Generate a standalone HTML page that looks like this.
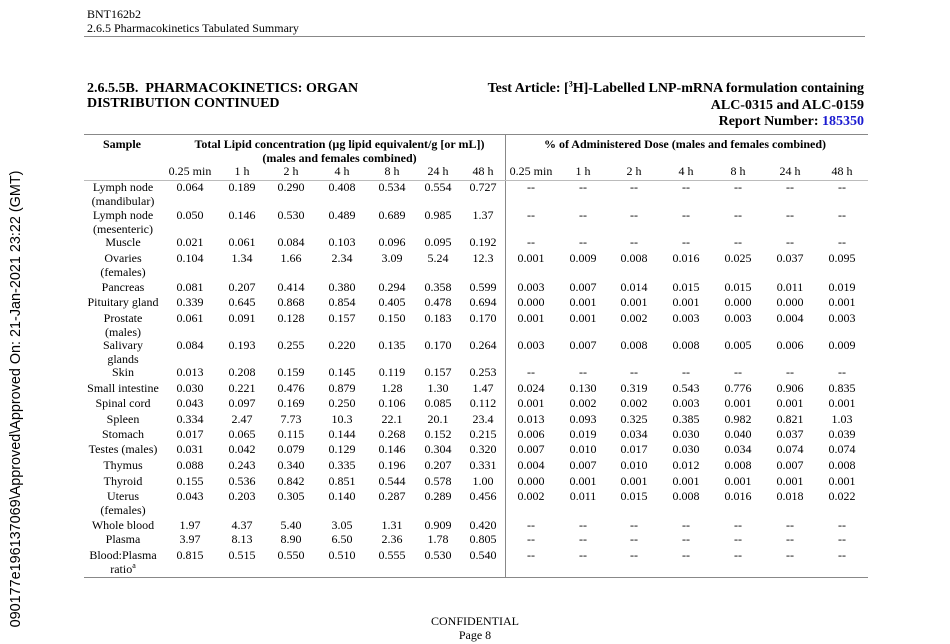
<!DOCTYPE html>
<html><head><meta charset="utf-8"><style>
body{margin:0;width:950px;height:644px;background:#fff;position:relative;overflow:hidden;font-family:"Liberation Serif",serif;font-size:12px;color:#000}
div,span{position:absolute;line-height:14px;white-space:nowrap}
.h{font-weight:bold;font-size:14px;line-height:15px}
.r span{width:60px;text-align:center}
.r .s{left:73px;width:100px}
.a1{left:160px}.a2{left:212px}.a3{left:261px}.a4{left:312px}.a5{left:362px}.a6{left:408px}.a7{left:453px}
.b1{left:501px}.b2{left:553px}.b3{left:604px}.b4{left:656px}.b5{left:708px}.b6{left:760px}.b7{left:812px}
.ln{background:#888;height:1px}
</style></head><body>
<div style="left:87px;top:7px">BNT162b2</div>
<div style="left:87px;top:21px">2.6.5 Pharmacokinetics Tabulated Summary</div>
<div class="ln" style="left:84px;top:36px;width:781px"></div>
<div class="h" style="left:87px;top:81px">2.6.5.5B.&nbsp; PHARMACOKINETICS: ORGAN<br>DISTRIBUTION CONTINUED</div>
<div class="h" style="right:86px;top:81px;text-align:right;line-height:16.5px">Test Article: [<sup style="font-size:8px;line-height:0">3</sup>H]-Labelled LNP-mRNA formulation containing<br>ALC-0315 and ALC-0159<br>Report Number: <span style="position:static;color:#1a1ad0">185350</span></div>
<div class="ln" style="left:84px;top:134px;width:784px"></div>
<div class="ln" style="left:505px;top:134px;width:1px;height:443px"></div>
<div class="ln" style="left:84px;top:180px;width:784px;background:#bbb"></div>
<div class="ln" style="left:84px;top:577px;width:784px"></div>
<div style="font-weight:bold;left:103px;top:137px">Sample</div>
<div style="font-weight:bold;left:187px;top:137px;width:305px;text-align:center">Total Lipid concentration (µg lipid equivalent/g [or mL])<br>(males and females combined)</div>
<div style="font-weight:bold;left:505px;top:137px;width:360px;text-align:center">% of Administered Dose (males and females combined)</div>
<div class="r" style="top:164px"><span class="a1">0.25 min</span><span class="a2">1 h</span><span class="a3">2 h</span><span class="a4">4 h</span><span class="a5">8 h</span><span class="a6">24 h</span><span class="a7">48 h</span><span class="b1">0.25 min</span><span class="b2">1 h</span><span class="b3">2 h</span><span class="b4">4 h</span><span class="b5">8 h</span><span class="b6">24 h</span><span class="b7">48 h</span></div>
<div class="r" style="top:180px"><span class="s">Lymph node<br>(mandibular)</span><span class="a1">0.064</span><span class="a2">0.189</span><span class="a3">0.290</span><span class="a4">0.408</span><span class="a5">0.534</span><span class="a6">0.554</span><span class="a7">0.727</span><span class="b1">--</span><span class="b2">--</span><span class="b3">--</span><span class="b4">--</span><span class="b5">--</span><span class="b6">--</span><span class="b7">--</span></div>
<div class="r" style="top:208px"><span class="s">Lymph node<br>(mesenteric)</span><span class="a1">0.050</span><span class="a2">0.146</span><span class="a3">0.530</span><span class="a4">0.489</span><span class="a5">0.689</span><span class="a6">0.985</span><span class="a7">1.37</span><span class="b1">--</span><span class="b2">--</span><span class="b3">--</span><span class="b4">--</span><span class="b5">--</span><span class="b6">--</span><span class="b7">--</span></div>
<div class="r" style="top:235px"><span class="s">Muscle</span><span class="a1">0.021</span><span class="a2">0.061</span><span class="a3">0.084</span><span class="a4">0.103</span><span class="a5">0.096</span><span class="a6">0.095</span><span class="a7">0.192</span><span class="b1">--</span><span class="b2">--</span><span class="b3">--</span><span class="b4">--</span><span class="b5">--</span><span class="b6">--</span><span class="b7">--</span></div>
<div class="r" style="top:251px"><span class="s">Ovaries<br>(females)</span><span class="a1">0.104</span><span class="a2">1.34</span><span class="a3">1.66</span><span class="a4">2.34</span><span class="a5">3.09</span><span class="a6">5.24</span><span class="a7">12.3</span><span class="b1">0.001</span><span class="b2">0.009</span><span class="b3">0.008</span><span class="b4">0.016</span><span class="b5">0.025</span><span class="b6">0.037</span><span class="b7">0.095</span></div>
<div class="r" style="top:280px"><span class="s">Pancreas</span><span class="a1">0.081</span><span class="a2">0.207</span><span class="a3">0.414</span><span class="a4">0.380</span><span class="a5">0.294</span><span class="a6">0.358</span><span class="a7">0.599</span><span class="b1">0.003</span><span class="b2">0.007</span><span class="b3">0.014</span><span class="b4">0.015</span><span class="b5">0.015</span><span class="b6">0.011</span><span class="b7">0.019</span></div>
<div class="r" style="top:295px"><span class="s">Pituitary gland</span><span class="a1">0.339</span><span class="a2">0.645</span><span class="a3">0.868</span><span class="a4">0.854</span><span class="a5">0.405</span><span class="a6">0.478</span><span class="a7">0.694</span><span class="b1">0.000</span><span class="b2">0.001</span><span class="b3">0.001</span><span class="b4">0.001</span><span class="b5">0.000</span><span class="b6">0.000</span><span class="b7">0.001</span></div>
<div class="r" style="top:311px"><span class="s">Prostate<br>(males)</span><span class="a1">0.061</span><span class="a2">0.091</span><span class="a3">0.128</span><span class="a4">0.157</span><span class="a5">0.150</span><span class="a6">0.183</span><span class="a7">0.170</span><span class="b1">0.001</span><span class="b2">0.001</span><span class="b3">0.002</span><span class="b4">0.003</span><span class="b5">0.003</span><span class="b6">0.004</span><span class="b7">0.003</span></div>
<div class="r" style="top:338px"><span class="s">Salivary<br>glands</span><span class="a1">0.084</span><span class="a2">0.193</span><span class="a3">0.255</span><span class="a4">0.220</span><span class="a5">0.135</span><span class="a6">0.170</span><span class="a7">0.264</span><span class="b1">0.003</span><span class="b2">0.007</span><span class="b3">0.008</span><span class="b4">0.008</span><span class="b5">0.005</span><span class="b6">0.006</span><span class="b7">0.009</span></div>
<div class="r" style="top:365px"><span class="s">Skin</span><span class="a1">0.013</span><span class="a2">0.208</span><span class="a3">0.159</span><span class="a4">0.145</span><span class="a5">0.119</span><span class="a6">0.157</span><span class="a7">0.253</span><span class="b1">--</span><span class="b2">--</span><span class="b3">--</span><span class="b4">--</span><span class="b5">--</span><span class="b6">--</span><span class="b7">--</span></div>
<div class="r" style="top:381px"><span class="s">Small intestine</span><span class="a1">0.030</span><span class="a2">0.221</span><span class="a3">0.476</span><span class="a4">0.879</span><span class="a5">1.28</span><span class="a6">1.30</span><span class="a7">1.47</span><span class="b1">0.024</span><span class="b2">0.130</span><span class="b3">0.319</span><span class="b4">0.543</span><span class="b5">0.776</span><span class="b6">0.906</span><span class="b7">0.835</span></div>
<div class="r" style="top:396px"><span class="s">Spinal cord</span><span class="a1">0.043</span><span class="a2">0.097</span><span class="a3">0.169</span><span class="a4">0.250</span><span class="a5">0.106</span><span class="a6">0.085</span><span class="a7">0.112</span><span class="b1">0.001</span><span class="b2">0.002</span><span class="b3">0.002</span><span class="b4">0.003</span><span class="b5">0.001</span><span class="b6">0.001</span><span class="b7">0.001</span></div>
<div class="r" style="top:412px"><span class="s">Spleen</span><span class="a1">0.334</span><span class="a2">2.47</span><span class="a3">7.73</span><span class="a4">10.3</span><span class="a5">22.1</span><span class="a6">20.1</span><span class="a7">23.4</span><span class="b1">0.013</span><span class="b2">0.093</span><span class="b3">0.325</span><span class="b4">0.385</span><span class="b5">0.982</span><span class="b6">0.821</span><span class="b7">1.03</span></div>
<div class="r" style="top:427px"><span class="s">Stomach</span><span class="a1">0.017</span><span class="a2">0.065</span><span class="a3">0.115</span><span class="a4">0.144</span><span class="a5">0.268</span><span class="a6">0.152</span><span class="a7">0.215</span><span class="b1">0.006</span><span class="b2">0.019</span><span class="b3">0.034</span><span class="b4">0.030</span><span class="b5">0.040</span><span class="b6">0.037</span><span class="b7">0.039</span></div>
<div class="r" style="top:442px"><span class="s">Testes (males)</span><span class="a1">0.031</span><span class="a2">0.042</span><span class="a3">0.079</span><span class="a4">0.129</span><span class="a5">0.146</span><span class="a6">0.304</span><span class="a7">0.320</span><span class="b1">0.007</span><span class="b2">0.010</span><span class="b3">0.017</span><span class="b4">0.030</span><span class="b5">0.034</span><span class="b6">0.074</span><span class="b7">0.074</span></div>
<div class="r" style="top:458px"><span class="s">Thymus</span><span class="a1">0.088</span><span class="a2">0.243</span><span class="a3">0.340</span><span class="a4">0.335</span><span class="a5">0.196</span><span class="a6">0.207</span><span class="a7">0.331</span><span class="b1">0.004</span><span class="b2">0.007</span><span class="b3">0.010</span><span class="b4">0.012</span><span class="b5">0.008</span><span class="b6">0.007</span><span class="b7">0.008</span></div>
<div class="r" style="top:474px"><span class="s">Thyroid</span><span class="a1">0.155</span><span class="a2">0.536</span><span class="a3">0.842</span><span class="a4">0.851</span><span class="a5">0.544</span><span class="a6">0.578</span><span class="a7">1.00</span><span class="b1">0.000</span><span class="b2">0.001</span><span class="b3">0.001</span><span class="b4">0.001</span><span class="b5">0.001</span><span class="b6">0.001</span><span class="b7">0.001</span></div>
<div class="r" style="top:489px"><span class="s">Uterus<br>(females)</span><span class="a1">0.043</span><span class="a2">0.203</span><span class="a3">0.305</span><span class="a4">0.140</span><span class="a5">0.287</span><span class="a6">0.289</span><span class="a7">0.456</span><span class="b1">0.002</span><span class="b2">0.011</span><span class="b3">0.015</span><span class="b4">0.008</span><span class="b5">0.016</span><span class="b6">0.018</span><span class="b7">0.022</span></div>
<div class="r" style="top:518px"><span class="s">Whole blood</span><span class="a1">1.97</span><span class="a2">4.37</span><span class="a3">5.40</span><span class="a4">3.05</span><span class="a5">1.31</span><span class="a6">0.909</span><span class="a7">0.420</span><span class="b1">--</span><span class="b2">--</span><span class="b3">--</span><span class="b4">--</span><span class="b5">--</span><span class="b6">--</span><span class="b7">--</span></div>
<div class="r" style="top:532px"><span class="s">Plasma</span><span class="a1">3.97</span><span class="a2">8.13</span><span class="a3">8.90</span><span class="a4">6.50</span><span class="a5">2.36</span><span class="a6">1.78</span><span class="a7">0.805</span><span class="b1">--</span><span class="b2">--</span><span class="b3">--</span><span class="b4">--</span><span class="b5">--</span><span class="b6">--</span><span class="b7">--</span></div>
<div class="r" style="top:548px"><span class="s">Blood:Plasma<br>ratio<sup style="font-size:8px;line-height:0">a</sup></span><span class="a1">0.815</span><span class="a2">0.515</span><span class="a3">0.550</span><span class="a4">0.510</span><span class="a5">0.555</span><span class="a6">0.530</span><span class="a7">0.540</span><span class="b1">--</span><span class="b2">--</span><span class="b3">--</span><span class="b4">--</span><span class="b5">--</span><span class="b6">--</span><span class="b7">--</span></div>
<div style="left:375px;width:200px;text-align:center;top:614px">CONFIDENTIAL<br>Page 8</div>
<div style="font-family:'Liberation Sans',sans-serif;font-size:14.4px;left:16px;top:399px;transform:translate(-50%,-50%) rotate(-90deg)">090177e196137069\Approved\Approved On: 21-Jan-2021 23:22 (GMT)</div>
</body></html>
